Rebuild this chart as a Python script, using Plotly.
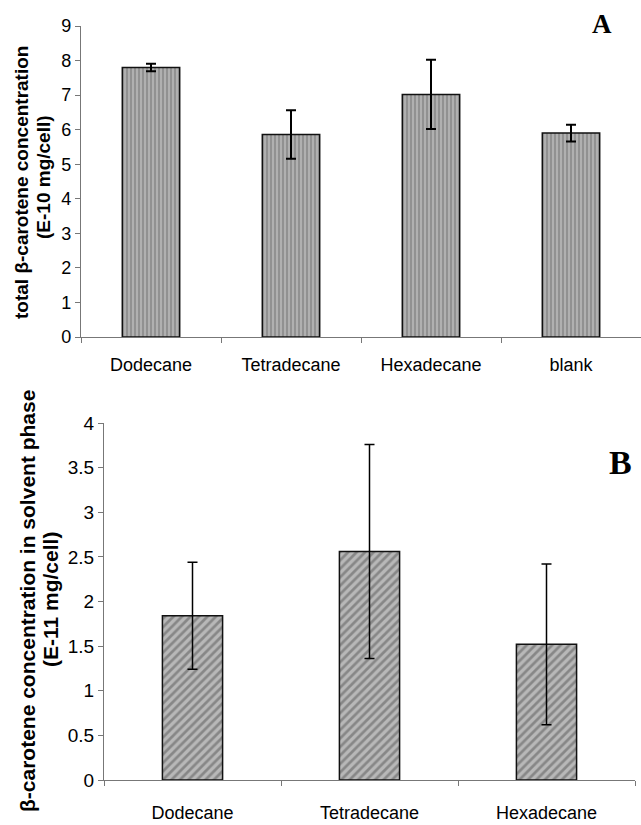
import plotly.graph_objects as go

# Panel A data
cats_a = ["Dodecane", "Tetradecane", "Hexadecane", "blank"]
vals_a = [7.80, 5.86, 7.02, 5.90]
err_a = [0.11, 0.70, 1.00, 0.24]

# Panel B data
cats_b = ["Dodecane", "Tetradecane", "Hexadecane"]
vals_b = [1.84, 2.56, 1.52]
err_b = [0.60, 1.20, 0.90]

W, H = 641, 825
FONT = "Liberation Sans, Arial, sans-serif"

fig = go.Figure()

fig.add_trace(go.Bar(
    x=cats_a, y=vals_a, xaxis="x", yaxis="y", width=0.41,
    marker=dict(color="#a8a8a8", line=dict(color="#111", width=1.5),
                pattern=dict(shape="|", size=4, solidity=0.45,
                             fgcolor="#6a6a6a", bgcolor="#b0b0b0")),
    error_y=dict(type="data", array=err_a, visible=True, color="#000",
                 thickness=2, width=5),
    showlegend=False,
))

fig.add_trace(go.Bar(
    x=cats_b, y=vals_b, xaxis="x2", yaxis="y2", width=0.34,
    marker=dict(color="#a8a8a8", line=dict(color="#111", width=1.5),
                pattern=dict(shape="/", size=6, solidity=0.45,
                             fgcolor="#555555", bgcolor="#b8b8b8")),
    error_y=dict(type="data", array=err_b, visible=True, color="#000",
                 thickness=1.5, width=5),
    showlegend=False,
))

axcommon = dict(showline=True, linecolor="#777", linewidth=1.2,
                ticks="outside", tickcolor="#777", ticklen=5,
                showgrid=False, zeroline=False, color="#000",
                automargin=False)

fig.update_layout(
    width=W, height=H,
    margin=dict(l=0, r=0, t=0, b=0, autoexpand=False),
    paper_bgcolor="white", plot_bgcolor="white",
    font=dict(family=FONT, color="#000", size=16),
    xaxis=dict(domain=[81 / W, 1.0], anchor="y", type="category",
               range=[-0.5, 3.5], tickson="boundaries",
               tickfont=dict(size=18), ticklabelstandoff=11, **axcommon),
    yaxis=dict(domain=[1 - 337 / H, 1 - 26 / H], anchor="x",
               range=[0, 9], dtick=1, tickfont=dict(size=18), **axcommon),
    xaxis2=dict(domain=[104 / W, 635 / W], anchor="y2", type="category",
                range=[-0.5, 2.5], tickson="boundaries",
                tickfont=dict(size=18), ticklabelstandoff=16, **axcommon),
    yaxis2=dict(domain=[1 - 780 / H, 1 - 423 / H], anchor="x2",
                range=[0, 4], dtick=0.5, tickfont=dict(size=19), **axcommon),
)

ann = [
    dict(text="<b>total β-carotene concentration</b>", x=21 / W, y=1 - 183 / H,
         textangle=-90, font=dict(size=19)),
    dict(text="<b>(E-10 mg/cell)</b>", x=43 / W, y=1 - 177 / H,
         textangle=-90, font=dict(size=19)),
    dict(text="<b>β-carotene concentration in solvent phase</b>", x=27 / W, y=1 - 601 / H,
         textangle=-90, font=dict(size=21)),
    dict(text="<b>(E-11 mg/cell)</b>", x=50 / W, y=1 - 600 / H,
         textangle=-90, font=dict(size=21)),
    dict(text="<b>A</b>", x=602 / W, y=1 - 24 / H,
         font=dict(size=27, family="Liberation Serif, Times New Roman, serif")),
    dict(text="<b>B</b>", x=620 / W, y=1 - 462 / H,
         font=dict(size=34, family="Liberation Serif, Times New Roman, serif")),
]
for a in ann:
    a.update(xref="paper", yref="paper", showarrow=False,
             xanchor="center", yanchor="middle")
fig.update_layout(annotations=ann)

fig.write_html("out.html")
